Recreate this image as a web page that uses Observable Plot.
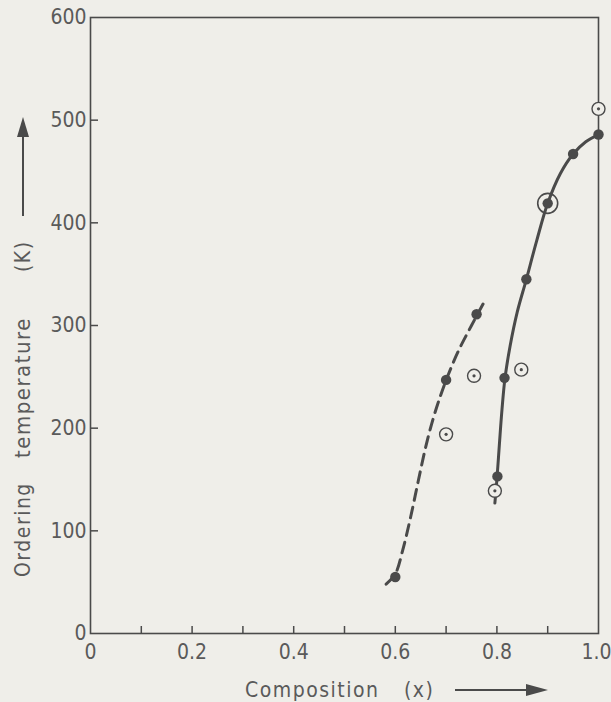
<!DOCTYPE html>
<html><head><meta charset="utf-8">
<script src="https://cdn.jsdelivr.net/npm/d3@7"></script>
<script src="https://cdn.jsdelivr.net/npm/@observablehq/plot@0.6"></script>
<style>
body{margin:0;background:#efeee9;}
svg text{white-space:pre;}
</style>
</head><body><div id="chart"></div>
<script>
// Axis ticks
const xTickValues = [0, 0.2, 0.4, 0.6, 0.8];
const xTickLabels = ["0", "0.2", "0.4", "0.6", "0.8"];
const xLastTick = [1.0];
const xLastLabel = ["1.0"];
const xMinorTicks = [0.1, 0.2, 0.3, 0.4, 0.5, 0.6, 0.7, 0.8, 0.9];
const yTickValues = [0, 100, 200, 300, 400, 500, 600];
const yTickLabels = ["0", "100", "200", "300", "400", "500", "600"];

// Solid curve (traced)
const solidX = [0.796, 0.800, 0.805, 0.810, 0.816, 0.826, 0.840, 0.858, 0.878, 0.900, 0.925, 0.950, 0.975, 1.000];
const solidY = [127, 150, 185, 218, 249, 280, 313, 345, 382, 419, 448, 467, 479, 486];
// Dashed curve (traced)
const dashX = [0.582, 0.600, 0.615, 0.630, 0.645, 0.660, 0.675, 0.690, 0.705, 0.725, 0.750, 0.775];
const dashY = [48, 58, 82, 113, 148, 182, 210, 233, 253, 276, 300, 323];

// Filled points
const filledX = [0.600, 0.700, 0.760, 0.801, 0.815, 0.858, 0.900, 0.950, 1.000];
const filledY = [55, 247, 311, 153, 249, 345, 419, 467, 486];
// Open (dotted-centre) points
const openX = [0.700, 0.755, 0.848, 0.796, 1.000];
const openY = [194, 251, 257, 139, 511];
// Large ring
const ringX = [0.900];
const ringY = [419];

const ink = "#4a4a4a";
const txt = "#5a5a5a";
const font = "'DejaVu Sans Condensed', 'DejaVu Sans', sans-serif";

const solid = solidX.map((x, i) => ({x, y: solidY[i]}));
const dashed = dashX.map((x, i) => ({x, y: dashY[i]}));
const filled = filledX.map((x, i) => ({x, y: filledY[i]}));
const open = openX.map((x, i) => ({x, y: openY[i]}));
const ring = ringX.map((x, i) => ({x, y: ringY[i]}));

const chart = Plot.plot({
  width: 611, height: 702,
  marginLeft: 90, marginRight: 13, marginTop: 17, marginBottom: 69,
  style: {background: "#efeee9", fontFamily: font, fontSize: "21px", color: txt},
  x: {domain: [0, 1]},
  y: {domain: [0, 600]},
  marks: [
    Plot.frame({stroke: ink, strokeWidth: 1.6}),
    Plot.axisX({ticks: xMinorTicks, tickSize: -7, tickFormat: () => "", stroke: ink, strokeWidth: 1.5, label: null}),
    Plot.axisX({ticks: xTickValues, tickSize: 0, tickPadding: 11, tickFormat: d => xTickLabels[xTickValues.indexOf(d)], fill: txt, label: null}),
    Plot.axisX({ticks: xLastTick, tickSize: 0, tickPadding: 11, textAnchor: "end", dx: 13, tickFormat: d => xLastLabel[xLastTick.indexOf(d)], fill: txt, label: null}),
    Plot.axisY({ticks: yTickValues.slice(1, 6), tickSize: -8, tickFormat: () => "", stroke: ink, strokeWidth: 1.5, label: null}),
    Plot.axisY({ticks: yTickValues, tickSize: 0, tickPadding: 4, tickFormat: d => yTickLabels[yTickValues.indexOf(d)], fill: txt, label: null}),
    Plot.line(dashed, {x: "x", y: "y", curve: "catmull-rom", stroke: ink, strokeWidth: 3, strokeDasharray: "11,7"}),
    Plot.line(solid, {x: "x", y: "y", curve: "catmull-rom", stroke: ink, strokeWidth: 3}),
    Plot.dot(ring, {x: "x", y: "y", r: 10, stroke: ink, strokeWidth: 1.6, fill: "none"}),
    Plot.dot(open, {x: "x", y: "y", r: 6.5, stroke: ink, strokeWidth: 1.4, fill: "#efeee9"}),
    Plot.dot(open, {x: "x", y: "y", r: 1.6, fill: ink, stroke: "none"}),
    Plot.dot(filled, {x: "x", y: "y", r: 5.2, fill: ink, stroke: "none"})
  ]
});
document.getElementById("chart").appendChild(chart);

// Axis titles with arrows
const svg = d3.select(chart);
const g = svg.append("g").attr("fill", txt).attr("font-family", font).attr("font-size", 21)
  .attr("text-anchor", "start").attr("letter-spacing", "1.5px");
g.append("text").attr("x", 245).attr("y", 697).text("Composition");
g.append("text").attr("x", 404).attr("y", 697).text("(x)");
g.append("line").attr("x1", 455).attr("x2", 528).attr("y1", 690).attr("y2", 690).attr("stroke", ink).attr("stroke-width", 2);
g.append("path").attr("d", "M526,684 L548,690 L526,696 Z").attr("fill", ink);

const yl = g.append("g").attr("transform", "translate(30,0) rotate(-90)");
yl.append("text").attr("x", -577).attr("y", 0).text("Ordering");
yl.append("text").attr("x", -458).attr("y", 0).attr("font-size", 22).text("temperature");
yl.append("text").attr("x", -272).attr("y", 0).text("(K)");
g.append("line").attr("x1", 23).attr("x2", 23).attr("y1", 216).attr("y2", 134).attr("stroke", ink).attr("stroke-width", 2);
g.append("path").attr("d", "M17,137 L23,117 L29,137 Z").attr("fill", ink);
</script>
</body></html>
